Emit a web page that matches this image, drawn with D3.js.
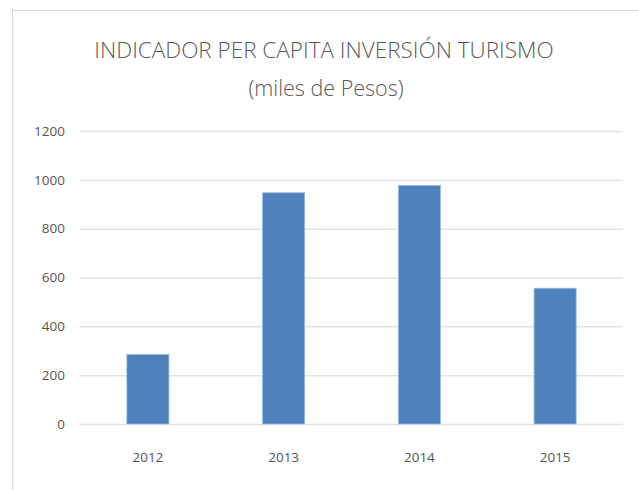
<!DOCTYPE html>
<html>
<head>
<meta charset="utf-8">
<script src="https://cdn.jsdelivr.net/npm/d3@7"></script>
<style>
  html, body { margin: 0; padding: 0; background: #fff; }
  svg { display: block; }
  text { font-family: "Open Sans", "DejaVu Sans Condensed", sans-serif; }
</style>
</head>
<body>
<svg id="chart" width="639" height="490"></svg>
<script>
// Per-capita tourism investment, thousands of pesos
const years = ["2012", "2013", "2014", "2015"];
const values = [285, 947, 977, 556];
const yTicks = [0, 200, 400, 600, 800, 1000, 1200];
const titleLines = ["INDICADOR PER CAPITA INVERSIÓN TURISMO", "(miles de Pesos)"];

const W = 639, H = 490;
const plot = { left: 80, right: 623, top: 131, bottom: 424 };

const svg = d3.select("#chart");

// chart area frame
svg.append("rect")
  .attr("x", 12.5).attr("y", 10.5)
  .attr("width", W + 10).attr("height", H + 10)
  .attr("fill", "#fff").attr("stroke", "#d9d9d9").attr("stroke-width", 1);

const x = d3.scaleBand().domain(years).range([plot.left, plot.right]).paddingInner(0.69).paddingOuter(0.345);
const y = d3.scaleLinear().domain([0, 1200]).range([plot.bottom, plot.top]);

// horizontal gridlines and value labels
const yAxis = d3.axisLeft(y).tickValues(yTicks).tickFormat(d3.format("d"))
  .tickSize(-(plot.right - plot.left)).tickPadding(15);
const gy = svg.append("g").attr("transform", `translate(${plot.left},0)`).call(yAxis);
gy.select(".domain").remove();
gy.selectAll(".tick line").attr("stroke", "#e3e3e3").attr("stroke-width", 1.5);
gy.selectAll(".tick text").attr("fill", "#555").attr("font-size", 13.5);

// bars
svg.append("g").selectAll("rect").data(years).join("rect")
  .attr("x", d => x(d))
  .attr("y", (d, i) => y(values[i]))
  .attr("width", x.bandwidth())
  .attr("height", (d, i) => y(0) - y(values[i]))
  .attr("fill", "#4f81bd")
  .attr("stroke", "#9dbbe0").attr("stroke-width", 0.8);

// category labels
const xAxis = d3.axisBottom(x).tickSize(0).tickPadding(28);
const gx = svg.append("g").attr("transform", `translate(0,${plot.bottom})`).call(xAxis);
gx.select(".domain").remove();
gx.selectAll(".tick text").attr("fill", "#555").attr("font-size", 13.5);

// title
svg.append("text").attr("x", 324).attr("y", 58).attr("text-anchor", "middle")
  .attr("fill", "#595959").attr("font-size", 22.5).attr("font-weight", 300).text(titleLines[0]);
svg.append("text").attr("x", 326).attr("y", 96).attr("text-anchor", "middle")
  .attr("fill", "#595959").attr("font-size", 21.5).attr("font-weight", 300).text(titleLines[1]);
</script>
</body>
</html>
